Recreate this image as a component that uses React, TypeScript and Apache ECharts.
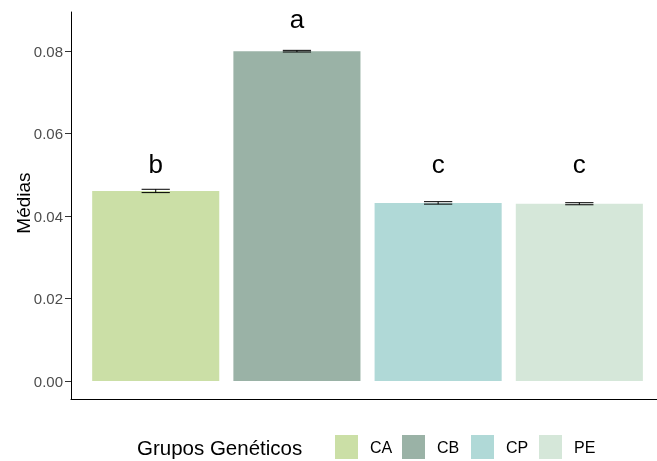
import React, { useEffect, useRef } from "react";
import * as echarts from "echarts";

const categories = ["CA", "CB", "CP", "PE"];
const means = [0.0461, 0.08, 0.0432, 0.0430];
const errors = [0.0004, 0.0002, 0.0003, 0.00025];
const letters = ["b", "a", "c", "c"];
const letterPos = [0.0495, 0.0847, 0.0495, 0.0495];
const colors = ["#CBDFA6", "#9AB2A6", "#B0D9D7", "#D5E7D9"];
const yTicks = [0, 0.02, 0.04, 0.06, 0.08];

const FONT = "'Liberation Sans', Arial, sans-serif";

export default function App() {
  const ref = useRef<HTMLDivElement>(null);
  useEffect(() => {
    const chart = echarts.init(ref.current!, null, { renderer: "svg" });
    const data = categories.map((c, i) => [i, means[i], errors[i], letterPos[i]]);
    const legendGraphics: any[] = [
      {
        type: "text",
        x: 23,
        y: 203,
        rotation: Math.PI / 2,
        style: {
          text: "Médias",
          font: `19px ${FONT}`,
          fill: "#000",
          align: "center",
          verticalAlign: "middle",
        },
      },
      {
        type: "text",
        x: 137,
        y: 447,
        style: {
          text: "Grupos Genéticos",
          font: `20.5px ${FONT}`,
          fill: "#000",
          verticalAlign: "middle",
        },
      },
    ];
    const keyX = [335, 402, 471, 539];
    categories.forEach((c, i) => {
      legendGraphics.push({
        type: "rect",
        shape: { x: keyX[i], y: 435, width: 23, height: 24 },
        style: { fill: colors[i] },
      });
      legendGraphics.push({
        type: "text",
        x: keyX[i] + 35,
        y: 447,
        style: {
          text: c,
          font: `16px ${FONT}`,
          fill: "#000",
          verticalAlign: "middle",
        },
      });
    });
    chart.setOption({
      animation: false,
      grid: { left: 71, right: 0, top: 12, bottom: 62, outerBoundsMode: "none", containLabel: false },
      xAxis: {
        type: "value",
        min: -0.6,
        max: 3.55,
        axisLine: { show: true, onZero: false, lineStyle: { color: "#000", width: 1 } },
        axisTick: { show: false },
        axisLabel: { show: false },
        splitLine: { show: false },
      },
      yAxis: {
        type: "value",
        min: -0.00436,
        max: 0.0895,
        axisLine: { show: true, onZero: false, lineStyle: { color: "#000", width: 1 } },
        axisTick: {
          show: true,
          length: 6,
          customValues: yTicks,
          lineStyle: { color: "#333" },
        },
        axisLabel: {
          customValues: yTicks,
          formatter: (v: number) => v.toFixed(2),
          fontFamily: FONT,
          fontSize: 15,
          color: "#4D4D4D",
          margin: 8,
        },
        splitLine: { show: false },
      },
      graphic: legendGraphics,
      series: [
        {
          type: "custom",
          data,
          renderItem: (params: any, api: any) => {
            const x = api.value(0);
            const y = api.value(1);
            const p0 = api.coord([x - 0.45, 0]);
            const p1 = api.coord([x + 0.45, y]);
            return {
              type: "rect",
              shape: { x: p0[0], y: p1[1], width: p1[0] - p0[0], height: p0[1] - p1[1] },
              style: { fill: colors[params.dataIndex] },
            };
          },
        },
        {
          type: "custom",
          data,
          z: 3,
          renderItem: (params: any, api: any) => {
            const x = api.value(0);
            const y = api.value(1);
            const e = api.value(2);
            const lo = api.coord([x, y - e]);
            const hi = api.coord([x, y + e]);
            const l = api.coord([x - 0.1, y])[0];
            const r = api.coord([x + 0.1, y])[0];
            const st = { stroke: "#000", lineWidth: 1 };
            return {
              type: "group",
              children: [
                { type: "line", shape: { x1: lo[0], y1: lo[1], x2: hi[0], y2: hi[1] }, style: st },
                { type: "line", shape: { x1: l, y1: lo[1], x2: r, y2: lo[1] }, style: st },
                { type: "line", shape: { x1: l, y1: hi[1], x2: r, y2: hi[1] }, style: st },
              ],
            };
          },
        },
        {
          type: "custom",
          data,
          z: 4,
          renderItem: (params: any, api: any) => {
            const x = api.value(0);
            const p = api.coord([x, api.value(3)]);
            return {
              type: "text",
              x: p[0],
              y: p[1],
              style: {
                text: letters[params.dataIndex],
                font: `26px ${FONT}`,
                fill: "#000",
                align: "center",
                verticalAlign: "bottom",
              },
            };
          },
        },
      ],
    });
    return () => chart.dispose();
  }, []);
  return (
    <div
      ref={ref}
      style={{ position: "fixed", left: 0, top: 0, width: 657, height: 461 }}
    />
  );
}
